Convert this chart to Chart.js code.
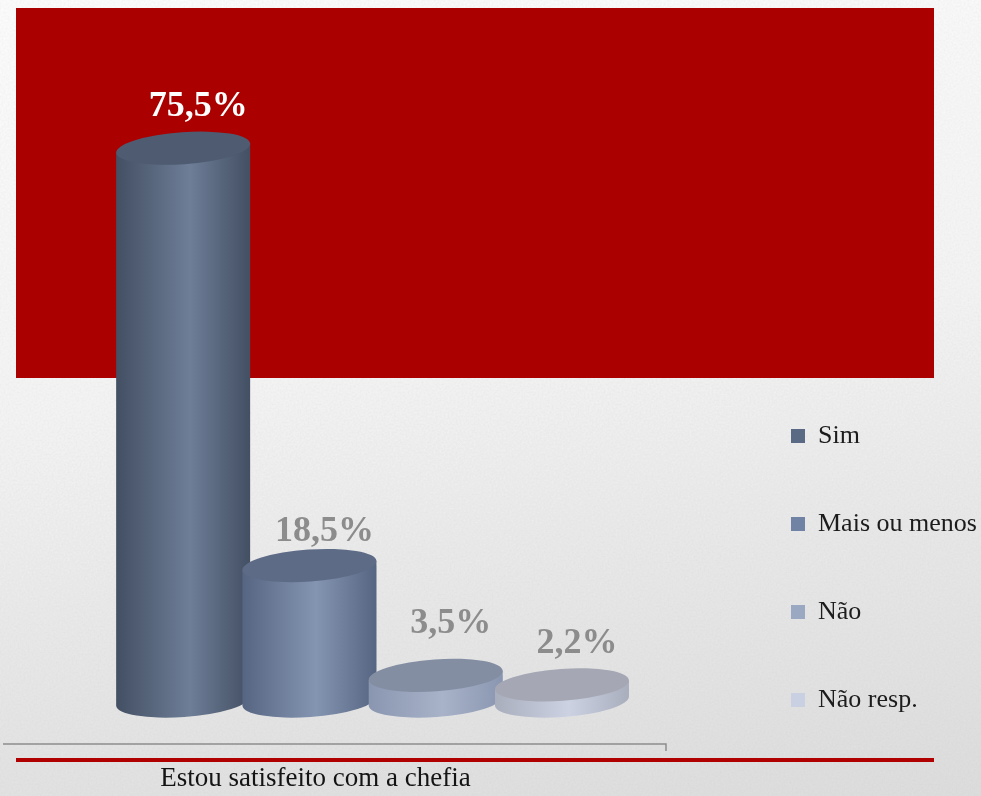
<!DOCTYPE html>
<html>
<head>
<meta charset="utf-8">
<title>Estou satisfeito com a chefia</title>
<script src="https://cdn.jsdelivr.net/npm/chart.js@4/dist/chart.umd.min.js"></script>
<style>
html, body { margin: 0; padding: 0; overflow: hidden; }
body {
    width: 981px;
    height: 796px;
    background:
        url("data:image/svg+xml,%3Csvg xmlns='http://www.w3.org/2000/svg' width='300' height='300'%3E%3Cfilter id='n'%3E%3CfeTurbulence type='fractalNoise' baseFrequency='0.5' numOctaves='2'/%3E%3CfeColorMatrix values='0 0 0 0 0.45 0 0 0 0 0.45 0 0 0 0 0.45 0.16 0 0 0 0'/%3E%3C/filter%3E%3Crect width='300' height='300' filter='url(%23n)'/%3E%3C/svg%3E"),
        linear-gradient(172deg, #ffffff 0%, #f6f6f6 45%, #eaeaea 70%, #dedede 100%);
}
canvas { display: block; }
</style>
</head>
<body>
<canvas id="chefia" width="981" height="796"></canvas>
<script>
// values
var categories = ["Estou satisfeito com a chefia"];
var seriesNames = ["Sim", "Mais ou menos", "Não", "Não resp."];
var seriesValues = [75.5, 18.5, 3.5, 2.2];

var seriesColors = ["#5a6a84", "#7083a5", "#9aa8c2", "#c9d0e2"];
var capColors = ["#4e5b71", "#5d6b86", "#838ea3", "#a5a8b4"];
var bodyLight = ["#6e7e97", "#8495b2", "#a8b3c9", "#ccd2e2"];
var bodyDark = ["#434f63", "#566582", "#8a96b0", "#a9aebd"];
var labelColors = ["#ffffff", "#8c8c8c", "#8c8c8c", "#8c8c8c"];
var labelGaps = [41, 34, 52, 41];

var serif = "'Liberation Serif', serif";
var tilt = 4 * Math.PI / 180;
var capHeight = 16;

function cylinderPath(ctx, bar){
    var r = bar.width / 2 / Math.cos(tilt);
    var side = r * Math.sin(tilt);
    ctx.beginPath();
    ctx.ellipse(bar.x, bar.base, r, capHeight, -tilt, 0, Math.PI);
    ctx.lineTo(bar.x - bar.width / 2, bar.y + side);
    ctx.lineTo(bar.x + bar.width / 2, bar.y - side);
    ctx.closePath();
}

var cylinders = {
    id: "cylinders",
    // red panel sits behind the bars
    beforeDatasetsDraw: function(chart){
        var ctx = chart.ctx;
        ctx.save();
        ctx.fillStyle = "#ab0000";
        ctx.fillRect(16, 8, 918, 370);
        ctx.restore();
    },
    // square bar corners would stick out of the round shape
    beforeDatasetDraw: function(chart, args){
        chart.ctx.save();
        cylinderPath(chart.ctx, args.meta.data[0]);
        chart.ctx.clip();
    },
    afterDatasetDraw: function(chart){
        chart.ctx.restore();
    },
    afterDatasetsDraw: function(chart){
        var ctx = chart.ctx;
        ctx.save();

        // shade left to right so later series overlap earlier ones
        for(var i = 0; i < seriesValues.length; i++){
            var bar = chart.getDatasetMeta(i).data[0];
            var shade = ctx.createLinearGradient(bar.x - bar.width / 2, 0, bar.x + bar.width / 2, 0);
            shade.addColorStop(0, bodyDark[i]);
            shade.addColorStop(0.55, bodyLight[i]);
            shade.addColorStop(1, bodyDark[i]);
            cylinderPath(ctx, bar);
            ctx.fillStyle = shade;
            ctx.fill();

            ctx.beginPath();
            ctx.ellipse(bar.x, bar.y, bar.width / 2 / Math.cos(tilt), capHeight, -tilt, 0, Math.PI * 2);
            ctx.fillStyle = capColors[i];
            ctx.fill();
        }

        // value labels
        ctx.font = "bold 36px " + serif;
        ctx.textAlign = "center";
        ctx.textBaseline = "middle";
        for(var j = 0; j < seriesValues.length; j++){
            var b = chart.getDatasetMeta(j).data[0];
            ctx.fillStyle = labelColors[j];
            ctx.fillText(seriesValues[j].toFixed(1).replace(".", ",") + "%", b.x + 15, b.y - labelGaps[j]);
        }

        // axis bracket and red rule under it
        ctx.strokeStyle = "#8d8d8d";
        ctx.lineWidth = 1.5;
        ctx.beginPath();
        ctx.moveTo(3, 744);
        ctx.lineTo(666, 744);
        ctx.lineTo(666, 751);
        ctx.stroke();
        ctx.fillStyle = "#b00000";
        ctx.fillRect(16, 758, 918, 4);
        ctx.restore();
    },
    // legend goes out past the layout padding, far from the plot
    afterLayout: function(chart){
        chart.legend.left = 729;
        chart.legend.right = 981;
        chart.legend.top = 361;
    }
};

var datasets = [];
for(var i = 0; i < seriesNames.length; i++){
    datasets.push({
        label: seriesNames[i],
        data: [seriesValues[i]],
        backgroundColor: seriesColors[i],
        borderWidth: 0
    });
}

var graph = new Chart(document.getElementById("chefia"), {
    type: "bar",
    data: {
        labels: categories,
        datasets: datasets
    },
    plugins: [cylinders],
    options: {
        responsive: false,
        animation: false,
        categoryPercentage: 1,
        barPercentage: 1.061,
        layout: {
            autoPadding: false,
            padding: { left: 120, right: 98, top: 42, bottom: 0 }
        },
        scales: {
            x: {
                afterFit: function(scale){
                    scale.height = 95;
                },
                grid: { display: false, drawTicks: false },
                border: { display: false },
                ticks: {
                    color: "#141414",
                    font: { family: serif, size: 27 },
                    padding: 62,
                    labelOffset: -57,
                    maxRotation: 0,
                    autoSkip: false
                }
            },
            y: {
                display: false,
                min: 0,
                max: 90
            }
        },
        plugins: {
            title: { display: false },
            tooltip: { enabled: false },
            legend: {
                position: "right",
                align: "start",
                labels: {
                    color: "#1c1c1c",
                    font: { family: serif, size: 26 },
                    boxWidth: 14,
                    boxHeight: 14,
                    padding: 62
                }
            }
        }
    }
});
</script>
</body>
</html>
